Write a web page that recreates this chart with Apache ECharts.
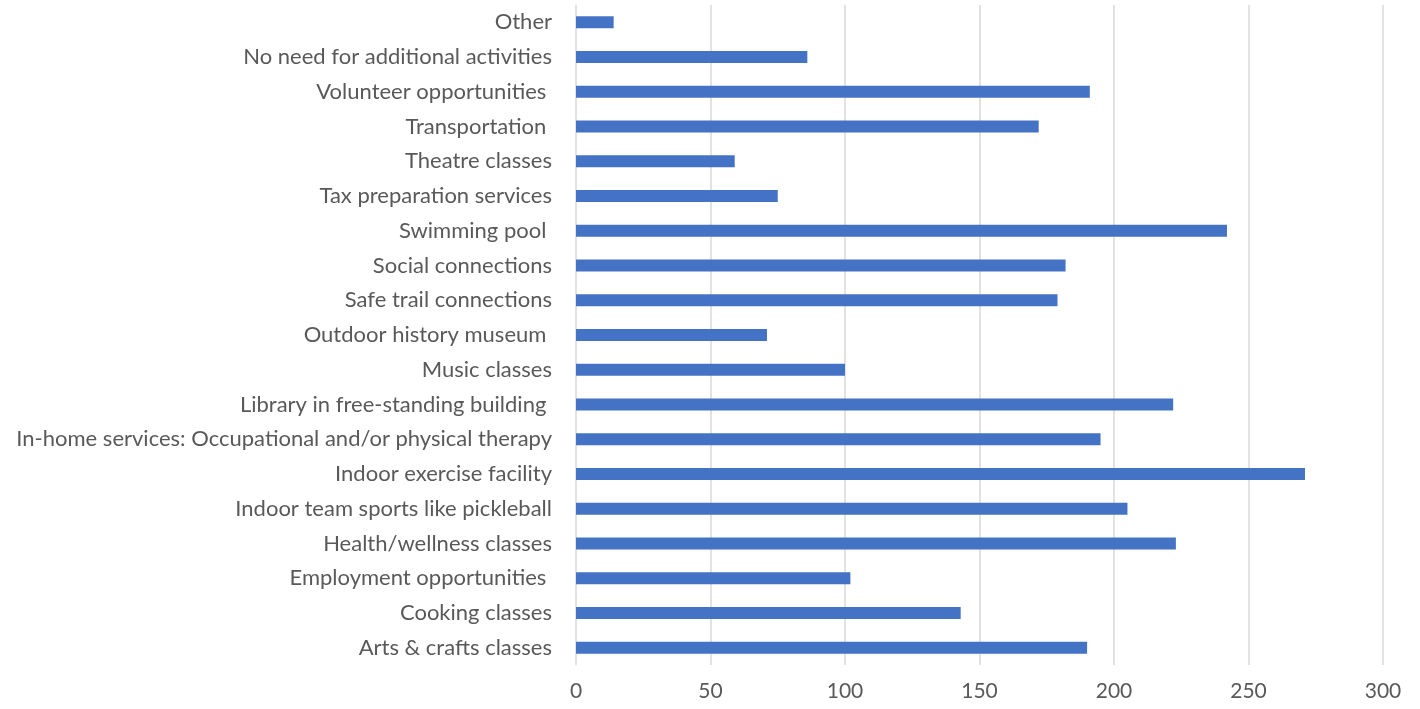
<!DOCTYPE html>
<html>
<head>
<meta charset="utf-8">
<title>Desired activities and services</title>
<script src="https://cdn.jsdelivr.net/npm/echarts@6/dist/echarts.min.js"></script>
<style>
  html, body { margin: 0; padding: 0; background: #ffffff; }
  #chart { width: 1420px; height: 709px; }
</style>
</head>
<body>
<div id="chart"></div>
<script>
// Categories listed bottom-to-top, as the value axis reads them
const categories = [
  'Arts & crafts classes',
  'Cooking classes',
  'Employment opportunities ',
  'Health/wellness classes',
  'Indoor team sports like pickleball',
  'Indoor exercise facility',
  'In-home services: Occupational and/or physical therapy',
  'Library in free-standing building ',
  'Music classes',
  'Outdoor history museum ',
  'Safe trail connections',
  'Social connections',
  'Swimming pool ',
  'Tax preparation services',
  'Theatre classes',
  'Transportation ',
  'Volunteer opportunities ',
  'No need for additional activities',
  'Other'
];

const responses = [190, 143, 102, 223, 205, 271, 195, 222, 100, 71, 179, 182, 242, 75, 59, 172, 191, 86, 14];

const xTicks = { min: 0, max: 300, interval: 50 };

const chart = echarts.init(document.getElementById('chart'));

chart.setOption({
  animation: false,
  textStyle: { fontFamily: 'Lato, "Open Sans", sans-serif' },
  grid: { left: 576, right: 37, top: 5, bottom: 44, containLabel: false },
  xAxis: {
    type: 'value',
    min: xTicks.min,
    max: xTicks.max,
    interval: xTicks.interval,
    axisLine: { show: false },
    axisTick: { show: false },
    axisLabel: { color: '#595959', fontSize: 21, margin: 16 },
    splitLine: { show: true, lineStyle: { color: '#d9d9d9', width: 1.5 } }
  },
  yAxis: {
    type: 'category',
    data: categories,
    axisLine: { show: false },
    axisTick: { show: false },
    axisLabel: { color: '#595959', fontSize: 22, margin: 24 }
  },
  series: [{
    type: 'bar',
    data: responses,
    barWidth: 12,
    itemStyle: { color: '#4472c4' }
  }]
});
</script>
</body>
</html>
